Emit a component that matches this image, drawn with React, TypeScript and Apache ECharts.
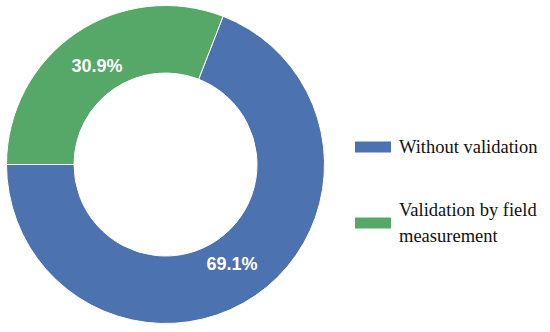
import React, { useEffect, useRef } from "react";
import * as echarts from "echarts";

const categories = ["Without validation", "Validation by field measurement"];
const shares = [69.1, 30.9];
const colors = ["#4C72B0", "#55A868"];
const labelOffsets = [[-6, -6], [4, 7]];
const legendLabels: Record<string, string> = {
  "Without validation": "Without validation",
  "Validation by field measurement": "Validation by field\nmeasurement",
};

export default function App() {
  const ref = useRef<HTMLDivElement>(null);
  useEffect(() => {
    if (!ref.current) return;
    const chart = echarts.init(ref.current, undefined, { renderer: "svg" });
    chart.setOption({
      animation: false,
      backgroundColor: "#ffffff",
      legend: {
        orient: "vertical",
        left: 348,
        top: 129,
        itemWidth: 38,
        itemHeight: 13,
        itemGap: 37,
        icon: "rect",
        data: categories,
        formatter: (n: string) => legendLabels[n] ?? n,
        textStyle: {
          fontFamily: "Liberation Serif",
          fontSize: 18.5,
          lineHeight: 26,
          color: "#111",
          padding: [0, 0, 0, 2],
        },
      },
      series: [
        {
          type: "pie",
          center: [165.5, 164.5],
          radius: [91.5, 159],
          startAngle: 180,
          clockwise: false,
          avoidLabelOverlap: false,
          itemStyle: { borderColor: "#ffffff", borderWidth: 1 },
          label: {
            show: true,
            position: "inside",
            formatter: (p: any) => p.value.toFixed(1) + "%",
            color: "#ffffff",
            fontFamily: "Liberation Sans",
            fontWeight: "bold",
            fontSize: 18,
          },
          labelLine: { show: false },
          emphasis: { disabled: true },
          data: categories.map((c, i) => ({
            name: c,
            value: shares[i],
            itemStyle: { color: colors[i] },
            label: { offset: labelOffsets[i] },
          })),
        },
      ],
    });
    return () => chart.dispose();
  }, []);
  return (
    <div
      ref={ref}
      style={{ position: "fixed", left: 0, top: 0, width: 550, height: 332 }}
    />
  );
}
